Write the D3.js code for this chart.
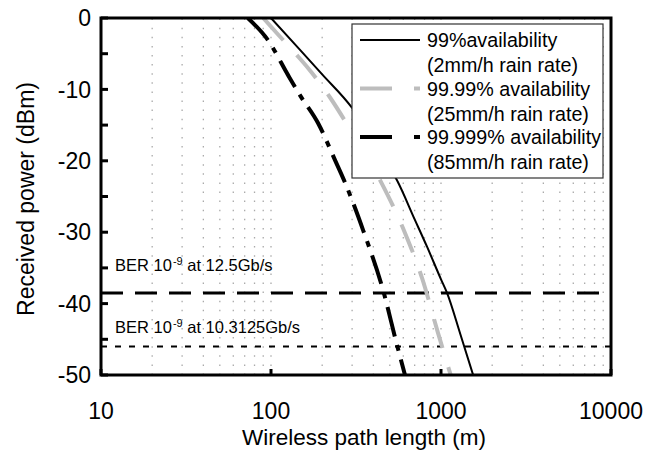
<!DOCTYPE html>
<html><head><meta charset="utf-8">
<script src="https://cdn.jsdelivr.net/npm/d3@7"></script>
<style>body{margin:0;background:#fff;} svg{display:block;font-family:Arial,"Liberation Sans",sans-serif;}</style>
</head><body><svg id="c" width="649" height="456"></svg>
<script>
// ---- data ----
const xTickValues = [10, 100, 1000, 10000];
const xTickLabels = ["10", "100", "1000", "10000"];
const yTickValues = [0, -10, -20, -30, -40, -50];
const yTickLabels = ["0", "-10", "-20", "-30", "-40", "-50"];
const yMinorTicks = [-5, -15, -25, -35, -45];

const seriesNames = ["99%availability", "99.99% availability", "99.999% availability"];
const seriesSub = ["(2mm/h rain rate)", "(25mm/h rain rate)", "(85mm/h rain rate)"];

const dist99 = [100, 150, 200, 300, 450, 550, 700, 830, 1000, 1085, 1300, 1545];
const power99 = [0, -4.6, -7.9, -12.6, -19.3, -22.7, -28.2, -32.1, -36.6, -38.5, -44.3, -50];

const dist9999 = [90, 108, 142, 165, 222, 299, 438, 614, 773, 960, 1140];
const power9999 = [0, -2.1, -5.2, -7.0, -11.1, -16.0, -22.7, -30.1, -36.4, -44.1, -50];

const dist99999 = [73, 96, 126, 148, 189, 238, 272, 348, 456, 551, 614];
const power99999 = [0, -3.1, -8.0, -10.8, -14.7, -19.9, -23.0, -29.7, -38.1, -45.8, -50];

const berLevels = [-38.5, -46];
const berPrefix = ["BER 10", "BER 10"];
const berExp = ["-9", "-9"];
const berSuffix = [" at 12.5Gb/s", " at 10.3125Gb/s"];

// ---- layout ----
const svg = d3.select("#c");
const L = 101, R = 611, T = 18, B = 375;
const x = d3.scaleLog().domain([10, 10000]).range([L, R]);
const y = d3.scaleLinear().domain([0, -50]).range([T, B]);

svg.append("defs").append("clipPath").attr("id", "clip")
  .append("rect").attr("x", L).attr("y", T).attr("width", R - L).attr("height", B - T);

// vertical dotted grid
const gridVals = [];
[10, 100, 1000].forEach(d => { for (let k = 2; k <= 10; k++) { if (d * k < 10000) gridVals.push(d * k); } });
svg.append("g").selectAll("line").data(gridVals).join("line")
  .attr("x1", d => x(d)).attr("x2", d => x(d))
  .attr("y1", B).attr("y2", T)
  .attr("stroke", "#aaa").attr("stroke-width", 1.3)
  .attr("stroke-dasharray", "1.5,7.6");

// BER threshold lines
const plot = svg.append("g").attr("clip-path", "url(#clip)");
plot.append("line").attr("x1", L).attr("x2", R).attr("y1", y(berLevels[0])).attr("y2", y(berLevels[0]))
  .attr("stroke", "#000").attr("stroke-width", 3).attr("stroke-dasharray", "22,12");
plot.append("line").attr("x1", L).attr("x2", R).attr("y1", y(berLevels[1])).attr("y2", y(berLevels[1]))
  .attr("stroke", "#000").attr("stroke-width", 2).attr("stroke-dasharray", "6,8");

// BER labels
const berOffsets = [-22, -13];
[0, 1].forEach(i => {
  const t = svg.append("text").attr("x", 115).attr("y", y(berLevels[i]) + berOffsets[i])
    .attr("font-size", 16.5).attr("fill", "#000");
  t.append("tspan").text(berPrefix[i]);
  t.append("tspan").attr("font-size", 11).attr("dy", -6).attr("dx", 1).text(berExp[i]);
  t.append("tspan").attr("dy", 6).text(berSuffix[i]);
});

// curves
const line = d3.line().x(d => x(d[0])).y(d => y(d[1])).curve(d3.curveMonotoneX);
const s1 = dist99.map((d, i) => [d, power99[i]]);
const s2 = dist9999.map((d, i) => [d, power9999[i]]);
const s3 = dist99999.map((d, i) => [d, power99999[i]]);
plot.append("path").attr("d", line(s2)).attr("fill", "none").attr("stroke", "#bdbdbd")
  .attr("stroke-width", 4).attr("stroke-dasharray", "30,20");
plot.append("path").attr("d", line(s3)).attr("fill", "none").attr("stroke", "#000")
  .attr("stroke-width", 4).attr("stroke-dasharray", "30,9,6,9");
plot.append("path").attr("d", line(s1)).attr("fill", "none").attr("stroke", "#000")
  .attr("stroke-width", 2);

// ticks (inside)
svg.append("g").selectAll("line").data(yTickValues.concat(yMinorTicks)).join("line")
  .attr("x1", L).attr("x2", L + 7).attr("y1", d => y(d)).attr("y2", d => y(d))
  .attr("stroke", "#000").attr("stroke-width", 3);
svg.append("g").selectAll("line").data(xTickValues).join("line")
  .attr("x1", d => x(d)).attr("x2", d => x(d)).attr("y1", B).attr("y2", B - 6)
  .attr("stroke", "#000").attr("stroke-width", 3);

// frame
svg.append("rect").attr("x", L).attr("y", T).attr("width", R - L).attr("height", B - T)
  .attr("fill", "none").attr("stroke", "#000").attr("stroke-width", 3);

// tick labels
svg.append("g").selectAll("text").data(yTickValues).join("text")
  .attr("x", 91).attr("y", d => y(d)).attr("dy", "0.36em").attr("text-anchor", "end")
  .attr("font-size", 23).text((d, i) => yTickLabels[i]);
svg.append("g").selectAll("text").data(xTickValues).join("text")
  .attr("x", d => x(d)).attr("y", 419).attr("text-anchor", "middle")
  .attr("font-size", 23).text((d, i) => xTickLabels[i]);

// axis titles
svg.append("text").attr("x", 364).attr("y", 445).attr("text-anchor", "middle")
  .attr("font-size", 22.5).text("Wireless path length (m)");
svg.append("text").attr("transform", `translate(34,199) rotate(-90)`)
  .attr("text-anchor", "middle").attr("font-size", 23).text("Received power (dBm)");

// legend
const lg = svg.append("g");
lg.append("rect").attr("x", 352).attr("y", 24).attr("width", 251).attr("height", 154)
  .attr("fill", "#fff").attr("stroke", "#333").attr("stroke-width", 1.2);
const legendStyles = [
  { stroke: "#000", width: 2, dash: null },
  { stroke: "#bdbdbd", width: 4, dash: "32,22" },
  { stroke: "#000", width: 4, dash: "32,22" }
];
seriesNames.forEach((n, i) => {
  const cy = 40 + i * 48.5;
  const st = legendStyles[i];
  const ln = lg.append("line").attr("x1", 360).attr("x2", 420).attr("y1", cy).attr("y2", cy)
    .attr("stroke", st.stroke).attr("stroke-width", st.width);
  if (st.dash) ln.attr("stroke-dasharray", st.dash);
  lg.append("text").attr("x", 427).attr("y", cy).attr("dy", "0.36em").attr("font-size", 19.7).text(n);
  lg.append("text").attr("x", 427).attr("y", cy + 25).attr("dy", "0.36em").attr("font-size", 19.7).text(seriesSub[i]);
});
</script></body></html>
